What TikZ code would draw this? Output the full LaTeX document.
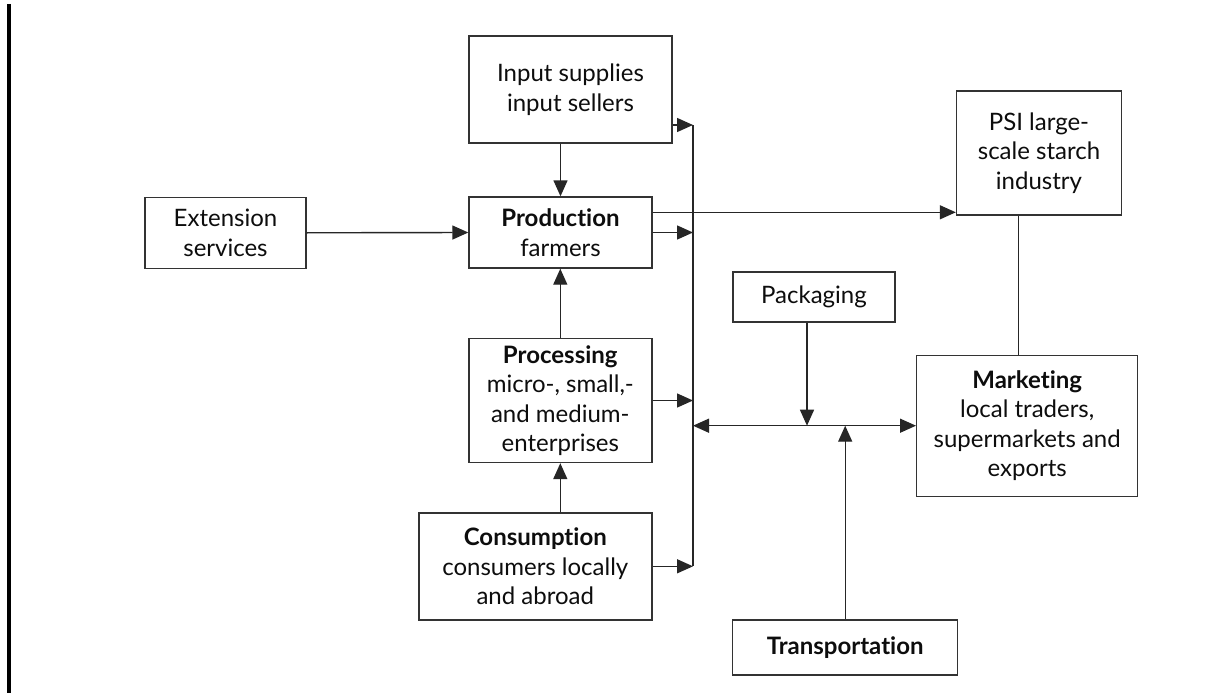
\documentclass[tikz,border=0pt]{standalone}
\usepackage{fontspec}
\setmainfont[Ligatures={NoCommon,NoContextual}]{Lato}
\usetikzlibrary{arrows.meta,calc}
\begin{document}
\begin{tikzpicture}[x=1pt,y=-1pt,
  box/.style={draw=black!80,line width=1.4pt,inner sep=2pt,align=center,
    font=\fontsize{24}{29.5}\selectfont,text=black!95},
  conn/.style={draw=black!85,line width=1.4pt},
  arr/.style={conn,-{Triangle[length=16pt,width=14pt]}},
  arrboth/.style={conn,{Triangle[length=16pt,width=14pt]}-{Triangle[length=16pt,width=14pt]}}]
\useasboundingbox (0,0) rectangle (1221,693);
\fill[white] (0,0) rectangle (1221,693);
\draw[line width=3.4pt] (8.9,4) -- (8.9,693);

\node[box,minimum width=203pt,minimum height=107pt] (input) at (570.5,89.5) {Input supplies\\input sellers};
\node[box,minimum width=183pt,minimum height=71pt] (production) at (560.5,232.5) {\textbf{Production}\\farmers};
\node[box,minimum width=161pt,minimum height=71pt] (ext) at (225.5,232.8) {Extension\\services};
\node[box,minimum width=165pt,minimum height=124pt] (psi) at (1039,153) {PSI large-\\scale starch\\industry};
\node[box,minimum width=162pt,minimum height=50pt] (packaging) at (814,297) {Packaging};
\node[box,minimum width=183pt,minimum height=124pt] (processing) at (560.3,400.5) {\textbf{Processing}\\micro-, small,-\\and medium-\\enterprises};
\node[box,minimum width=233pt,minimum height=107pt] (consumption) at (535.3,566.3) {\textbf{Consumption}\\consumers locally\\and abroad};
\node[box,minimum width=221pt,minimum height=141pt] (marketing) at (1027.2,425.7) {\textbf{Marketing}\\local traders,\\supermarkets and\\exports};
\node[box,minimum width=225pt,minimum height=55pt] (transport) at (845.2,647.5) {\textbf{Transportation}};

\coordinate (bustop) at (693,125);
\coordinate (pk) at (807,425.7);
\coordinate (psiline) at (1018.5,300);
\coordinate (prodhi) at ($(production.north east)+(0,16)$);

% bus
\draw[conn] (bustop) -- (bustop |- consumption.east);
\draw[arr] (bustop -| input.east) -- (bustop);
\draw[arr] (production.east) -- (production.east -| bustop);
\draw[arr] (processing.east) -- (processing.east -| bustop);
\draw[arr] (consumption.east) -- (consumption.east -| bustop);

% vertical links
\draw[arr] (input.south -| production.north) -- (production.north);
\draw[arr] (ext.east) -- (production.west);
\draw[arr] (processing.north) -- (processing.north |- production.south);
\draw[arr] (consumption.north -| processing.south) -- (processing.south);

% to PSI
\draw[arr] (prodhi) -- (prodhi -| psi.west);
\draw[conn] (psiline |- psi.south) -- (psiline |- marketing.north);

% horizontal to marketing
\draw[arrboth] (marketing.west -| bustop) -- (marketing.west);
\draw[arr] (pk |- packaging.south) -- (pk);
\draw[arr] (transport.north) -- (transport.north |- marketing.west);
\end{tikzpicture}
\end{document}
